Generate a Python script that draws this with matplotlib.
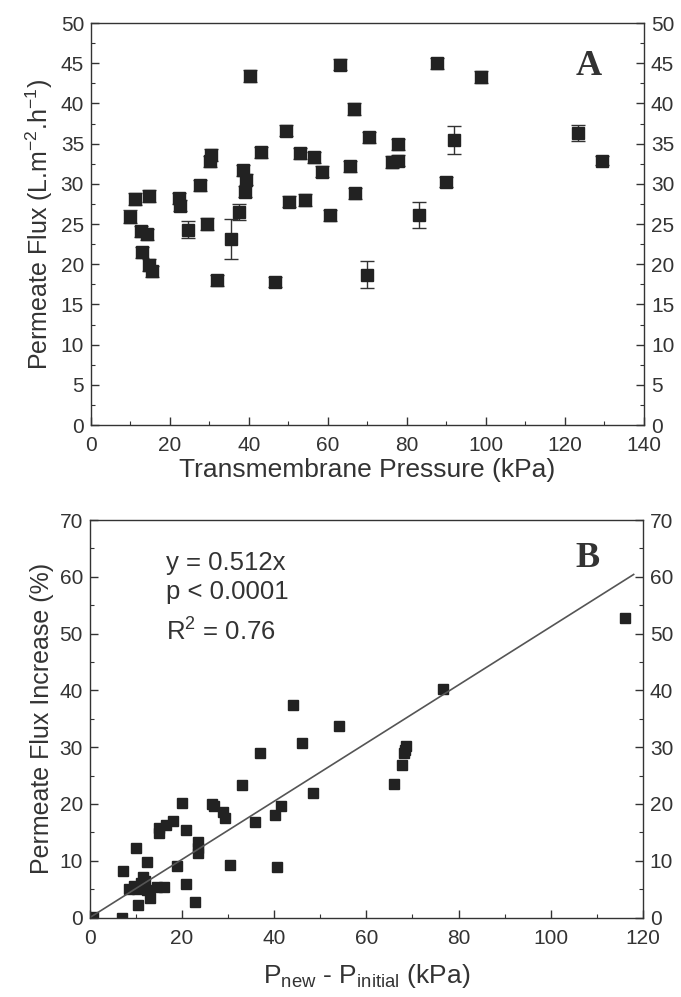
import matplotlib
matplotlib.use('Agg')
import matplotlib.pyplot as plt
from matplotlib.ticker import MultipleLocator

plt.rcParams['font.family'] = ['Liberation Sans', 'DejaVu Sans']
plt.rcParams['mathtext.fontset'] = 'custom'
plt.rcParams['mathtext.rm'] = 'Liberation Sans'
plt.rcParams['mathtext.it'] = 'Liberation Sans'

INK = '#333333'
MARK = '#222222'

# Panel A: permeate flux vs transmembrane pressure (with SD error bars)
tmp_kpa = [9.9, 11.2, 14.8, 12.7, 14.2, 12.9, 14.6, 15.4, 22.2, 22.5, 24.5, 27.5,
           29.4, 30.4, 30.1, 31.9, 35.5, 37.5, 38.5, 39.3, 39.0, 40.2, 43.0, 46.5,
           49.5, 50.1, 53.0, 54.2, 56.4, 58.4, 60.6, 63.0, 65.7, 66.5, 66.9, 69.9,
           70.5, 76.1, 77.8, 77.8, 83.0, 87.5, 89.8, 91.8, 98.7, 123.2, 129.5]
flux = [25.9, 28.1, 28.5, 24.1, 23.7, 21.5, 19.9, 19.1, 28.2, 27.3, 24.3, 29.8,
        25.0, 33.6, 32.8, 18.0, 23.1, 26.5, 31.7, 30.5, 29.0, 43.4, 33.9, 17.8,
        36.6, 27.8, 33.8, 28.0, 33.3, 31.5, 26.1, 44.8, 32.2, 39.3, 28.8, 18.7,
        35.8, 32.7, 32.9, 34.9, 26.1, 45.0, 30.2, 35.5, 43.3, 36.3, 32.9]
flux_sd = [0.8, 0.7, 0.7, 0.7, 0.7, 0.7, 0.7, 0.7, 0.7, 0.7, 1.1, 0.7,
           0.7, 0.7, 0.7, 0.7, 2.5, 1.0, 0.7, 0.7, 0.7, 0.7, 0.7, 0.6,
           0.7, 0.7, 0.7, 0.7, 0.7, 0.7, 0.7, 0.7, 0.7, 0.7, 0.7, 1.7,
           0.7, 0.7, 0.7, 0.7, 1.6, 0.7, 0.6, 1.75, 0.7, 1.0, 0.5]

# Panel B: flux increase vs pressure step
dp_kpa = [0.6, 6.9, 7.1, 10.0, 8.4, 10.5, 12.4, 10.2, 11.6, 12.4, 13.1, 14.6,
          16.0, 15.1, 15.1, 16.6, 18.0, 18.9, 20.0, 20.9, 20.9, 22.9, 23.4, 23.4,
          23.4, 26.6, 26.9, 28.9, 29.4, 30.5, 33.0, 35.9, 36.9, 40.2, 41.4, 40.5,
          44.1, 46.0, 48.5, 54.0, 66.1, 67.7, 68.1, 68.3, 68.7, 76.6, 116.2,
          11.0, 12.0, 9.5]
flux_inc = [0.1, 0.0, 8.2, 12.3, 5.1, 2.2, 9.7, 5.1, 7.2, 4.8, 3.4, 5.4,
            5.4, 14.8, 15.7, 16.3, 17.0, 9.1, 20.2, 15.4, 5.9, 2.8, 13.3, 12.2,
            11.3, 20.0, 19.6, 18.6, 17.6, 9.2, 23.3, 16.9, 29.0, 18.0, 19.6, 8.9,
            37.4, 30.8, 21.9, 33.7, 23.5, 26.8, 28.9, 29.5, 30.2, 40.2, 52.8,
            6.0, 6.4, 5.6]
slope = 0.512
fit_x = [0.0, 118.0]


def style_axis(ax):
    for s in ax.spines.values():
        s.set_color(INK)
        s.set_linewidth(1.0)
    ax.tick_params(which='both', direction='in', colors=INK, top=False,
                   right=True, labelright=True, labelsize=15)
    ax.tick_params(which='major', length=6, width=1.0, pad=5)
    ax.tick_params(which='minor', length=3, width=0.8)
    ax.tick_params(axis='x', which='major', pad=8)


fig = plt.figure(figsize=(6.81, 9.97), dpi=100)

# ---- Panel A ----
axA = fig.add_axes([0.1336, 0.5737, 0.812, 0.4032])
axA.errorbar(tmp_kpa, flux, yerr=flux_sd, fmt='s', color=MARK, ms=9,
             mec=MARK, ecolor=INK, elinewidth=1.0, capsize=5, capthick=1.0)
axA.set_xlim(0, 140)
axA.set_ylim(0, 50)
axA.xaxis.set_major_locator(MultipleLocator(20))
axA.xaxis.set_minor_locator(MultipleLocator(10))
axA.yaxis.set_major_locator(MultipleLocator(5))
axA.yaxis.set_minor_locator(MultipleLocator(2.5))
style_axis(axA)
axA.set_xlabel('Transmembrane Pressure (kPa)', fontsize=19, color=INK, labelpad=2)
axA.set_ylabel(r'Permeate Flux (L.m$^{-2}$.h$^{-1}$)', fontsize=18, color=INK)
axA.text(126, 44.6, 'A', fontsize=26, fontweight='bold', family='Liberation Serif',
         color=INK, ha='center', va='center')

# ---- Panel B ----
axB = fig.add_axes([0.132, 0.0797, 0.812, 0.3987])
axB.plot(dp_kpa, flux_inc, 's', color=MARK, ms=7.7, mec=MARK)
axB.plot(fit_x, [slope * v for v in fit_x], '-', color='#555555', lw=1.2)
axB.set_xlim(0, 120)
axB.set_ylim(0, 70)
axB.xaxis.set_major_locator(MultipleLocator(20))
axB.xaxis.set_minor_locator(MultipleLocator(10))
axB.yaxis.set_major_locator(MultipleLocator(10))
axB.yaxis.set_minor_locator(MultipleLocator(5))
style_axis(axB)
axB.set_xlabel(r'P$_{\mathrm{new}}$ - P$_{\mathrm{initial}}$ (kPa)', fontsize=19,
               color=INK, labelpad=10)
axB.set_ylabel('Permeate Flux Increase (%)', fontsize=18, color=INK)
axB.text(108, 63.3, 'B', fontsize=26, fontweight='bold', family='Liberation Serif',
         color=INK, ha='center', va='center')
for yy, s in [(62.4, f'y = {slope}x'), (57.3, 'p < 0.0001'), (50.3, r'R$^2$ = 0.76')]:
    axB.text(16.6, yy, s, fontsize=18.5, color=INK, ha='left', va='center')

fig.savefig('out.png', dpi=100)
